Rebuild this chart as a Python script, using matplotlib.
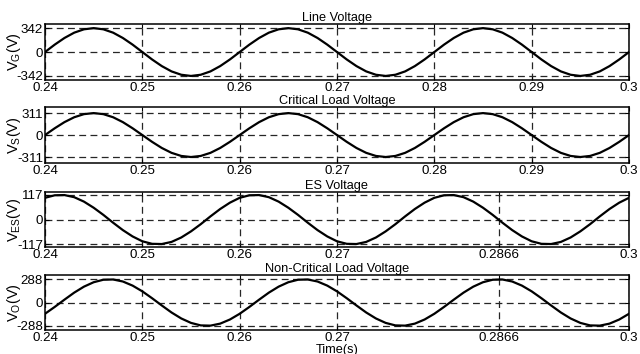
import numpy as np
import matplotlib
matplotlib.use("Agg")
import matplotlib.pyplot as plt

plt.rcParams['font.family'] = ['Liberation Sans', 'DejaVu Sans']
plt.rcParams['mathtext.default'] = 'regular'

# sampled every 1 ms from 0.24 s to 0.30 s
t = [0.24 + 0.001 * k for k in range(61)]

v_grid_cycle = [0, 106, 201, 277, 325, 342, 325, 277, 201, 106,
                0, -106, -201, -277, -325, -342, -325, -277, -201, -106]
v_crit_cycle = [0, 96, 183, 252, 296, 311, 296, 252, 183, 96,
                0, -96, -183, -252, -296, -311, -296, -252, -183, -96]
v_es_cycle = [103, 115, 116, 106, 85, 56, 22, -15, -50, -80,
              -103, -115, -116, -106, -85, -56, -22, 15, 50, 80]
v_nc_cycle = [-139, -54, 36, 123, 197, 252, 283, 286, 261, 210,
              139, 54, -36, -123, -197, -252, -283, -286, -261, -210]

v_grid = v_grid_cycle * 3 + [v_grid_cycle[0]]
v_crit = v_crit_cycle * 3 + [v_crit_cycle[0]]
v_es = v_es_cycle * 3 + [v_es_cycle[0]]
v_nc = v_nc_cycle * 3 + [v_nc_cycle[0]]

titles = ['Line Voltage', 'Critical Load Voltage', 'ES Voltage',
          'Non-Critical Load Voltage']
ylabels = ['V$_G$(V)', 'V$_S$(V)', 'V$_{ES}$(V)', 'V$_O$(V)']
peaks = [342, 311, 117, 288]
ylims = [400, 396, 130, 340]
xt_a = [0.24, 0.25, 0.26, 0.27, 0.28, 0.29, 0.30]
xl_a = ['0.24', '0.25', '0.26', '0.27', '0.28', '0.29', '0.3']
xt_b = [0.24, 0.25, 0.26, 0.27, 0.2866, 0.30]
xl_b = ['0.24', '0.25', '0.26', '0.27', '0.2866', '0.3']

series = [v_grid, v_crit, v_es, v_nc]
xticks = [xt_a, xt_a, xt_b, xt_b]
xlabels = [xl_a, xl_a, xl_b, xl_b]

fig = plt.figure(figsize=(6.4, 3.54), dpi=100)
boxes = [[0.0703, 0.774, 0.9125, 0.158],
         [0.0703, 0.5395, 0.9125, 0.158],
         [0.0703, 0.3023, 0.9125, 0.155],
         [0.0703, 0.0678, 0.9125, 0.155]]

for i in range(4):
    ax = fig.add_axes(boxes[i])
    ax.plot(t, series[i], color='black', lw=1.6)
    ax.set_xlim(0.24, 0.30)
    ax.set_ylim(-ylims[i], ylims[i])
    p = peaks[i]
    ax.set_yticks([-p, 0, p])
    ax.set_yticklabels([str(-p), '0', str(p)])
    ax.set_xticks(xticks[i])
    ax.set_xticklabels(xlabels[i])
    ax.grid(True, color='0.15', linestyle=(0, (5.5, 3.5)), linewidth=0.9)
    ax.tick_params(direction='in', length=3, width=0.8, labelsize=9.6,
                   pad=1.5, top=True, right=True)
    for s in ax.spines.values():
        s.set_linewidth(1.1)
    ax.set_title(titles[i], fontsize=9.2, pad=2.5)
    ax.set_ylabel(ylabels[i], fontsize=10.5)
    ax.yaxis.set_label_coords(-0.037, 0.5)

ax.set_xlabel('Time(s)', fontsize=9.2, labelpad=0)

fig.savefig('out.png', dpi=100)
